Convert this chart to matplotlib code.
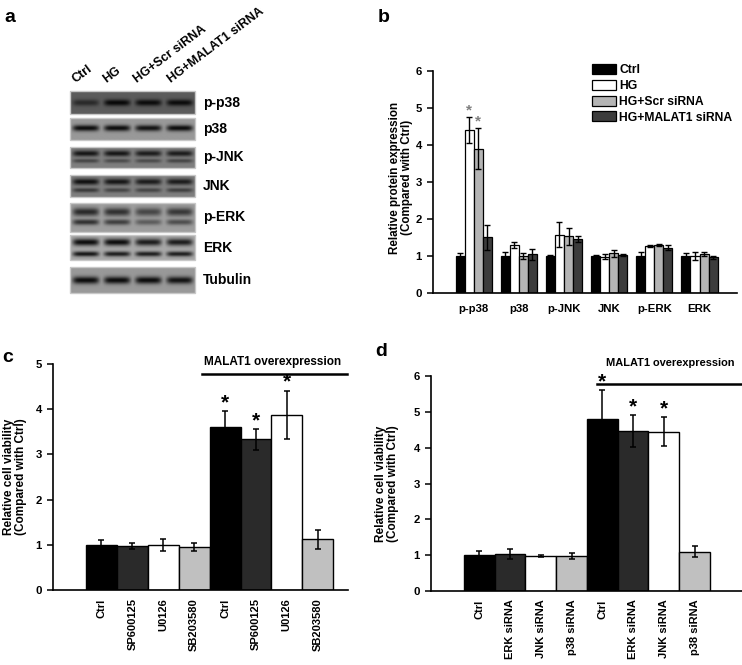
import numpy as np
import matplotlib
matplotlib.use('Agg')
import matplotlib.pyplot as plt

plt.rcParams['font.family'] = ['Liberation Sans', 'DejaVu Sans']
plt.rcParams['font.weight'] = 'bold'
plt.rcParams['axes.labelweight'] = 'bold'

# ---- panel a: western blot (band darkness per lane, 0..1) ----
lanes = ['Ctrl', 'HG', 'HG+Scr siRNA', 'HG+MALAT1 siRNA']
blot_names = ['p-p38', 'p38', 'p-JNK', 'JNK', 'p-ERK', 'ERK', 'Tubulin']
blot_bg = [0.36, 0.60, 0.50, 0.50, 0.62, 0.66, 0.60]
blot_upper = [[0.60, 1.00, 0.95, 0.95],
              [1.00, 1.00, 0.95, 1.00],
              [0.90, 0.90, 0.85, 0.85],
              [0.95, 0.90, 0.85, 0.85],
              [0.80, 0.75, 0.60, 0.70],
              [1.00, 1.00, 0.90, 0.90],
              [1.00, 1.00, 1.00, 0.95]]
blot_lower = [None, None,
              [0.50, 0.45, 0.45, 0.50],
              [0.60, 0.50, 0.50, 0.55],
              [0.75, 0.65, 0.45, 0.55],
              [0.95, 0.90, 0.90, 0.90],
              None]

# ---- panel b ----
proteins = ['p-p38', 'p38', 'p-JNK', 'JNK', 'p-ERK', 'ERK']
groups_b = ['Ctrl', 'HG', 'HG+Scr siRNA', 'HG+MALAT1 siRNA']
vals_b = np.array([[1.00, 1.00, 1.00, 1.00, 1.00, 1.00],
                   [4.40, 1.30, 1.58, 0.98, 1.28, 1.00],
                   [3.90, 1.00, 1.53, 1.07, 1.30, 1.06],
                   [1.50, 1.05, 1.47, 1.02, 1.22, 0.97]])
err_b = np.array([[0.07, 0.12, 0.03, 0.03, 0.10, 0.08],
                  [0.35, 0.08, 0.33, 0.07, 0.03, 0.10],
                  [0.55, 0.07, 0.22, 0.10, 0.03, 0.06],
                  [0.33, 0.15, 0.08, 0.03, 0.07, 0.04]])
colors_b = ['#000000', '#ffffff', '#b4b4b4', '#3c3c3c']

# ---- panel c ----
labels_c = ['Ctrl', 'SP600125', 'U0126', 'SB203580',
            'Ctrl', 'SP600125', 'U0126', 'SB203580']
vals_c = [1.00, 0.98, 0.99, 0.95, 3.60, 3.33, 3.88, 1.12]
err_c = [0.10, 0.07, 0.13, 0.08, 0.35, 0.23, 0.53, 0.21]
star_c = [False, False, False, False, True, True, True, False]

# ---- panel d ----
labels_d = ['Ctrl', 'ERK siRNA', 'JNK siRNA', 'p38 siRNA',
            'Ctrl', 'ERK siRNA', 'JNK siRNA', 'p38 siRNA']
vals_d = [1.00, 1.03, 0.98, 0.98, 4.80, 4.47, 4.45, 1.10]
err_d = [0.13, 0.13, 0.03, 0.08, 0.80, 0.44, 0.40, 0.15]
star_d = [False, False, False, False, True, True, True, False]

colors_cd = ['#000000', '#2a2a2a', '#ffffff', '#c0c0c0'] * 2

W, H = 742, 665
fig = plt.figure(figsize=(W / 100, H / 100), dpi=100)


def px_axes(l, t, r, b):
    return fig.add_axes([l / W, 1 - b / H, (r - l) / W, (b - t) / H])


# overlay in pixel coordinates for blot and panel letters
ov = fig.add_axes([0, 0, 1, 1])
ov.axis('off')

strip_top = [91, 118, 147, 175, 203, 235, 267]
strip_bot = [114, 140, 168, 197, 232, 260, 293]
band_pos = [(0.50, None), (0.45, None), (0.30, 0.65), (0.30, 0.68),
            (0.30, 0.65), (0.28, 0.75), (0.50, None)]
x0, x1 = 70, 195
yy, xx = np.mgrid[0:60, 0:200] / np.array([60.0, 200.0])[:, None, None]
for i, name in enumerate(blot_names):
    dark = np.zeros((60, 200))
    for j in range(4):
        cx = (j + 0.5) / 4
        lane = np.exp(-((xx - cx) / 0.105) ** 6)
        for pos, amp, sy in [(band_pos[i][0], blot_upper[i], 0.14),
                             (band_pos[i][1], blot_lower[i], 0.10)]:
            if pos is None:
                continue
            dark = np.maximum(dark, amp[j] * lane * np.exp(-((yy - pos) / sy) ** 2))
    img = blot_bg[i] * (1 - 0.92 * dark)
    ov.imshow(img, cmap='gray', vmin=0, vmax=1, aspect='auto',
              extent=(x0, x1, strip_bot[i], strip_top[i]), interpolation='bilinear')
    ov.add_patch(plt.Rectangle((x0, strip_top[i]), x1 - x0, strip_bot[i] - strip_top[i],
                               fill=False, edgecolor='#c8c8c8', lw=1))
    ov.text(203, (strip_top[i] + strip_bot[i]) / 2, name, fontsize=10,
            ha='left', va='center')
ov.set_xlim(0, W)
ov.set_ylim(H, 0)

lane_x = [77, 108, 139, 173]
for j, lab in enumerate(lanes):
    ov.text(lane_x[j], 85, lab, fontsize=9, rotation=37, rotation_mode='anchor',
            ha='left', va='bottom')

for letter, x, y in [('a', 4, 17), ('b', 378, 18), ('c', 2, 357), ('d', 375, 351)]:
    ov.text(x, y, letter, fontsize=14, ha='left', va='center')


def style(ax):
    ax.spines['top'].set_visible(False)
    ax.spines['right'].set_visible(False)
    for s in ['left', 'bottom']:
        ax.spines[s].set_linewidth(1.2)
    ax.tick_params(axis='y', length=4, width=1.1, labelsize=8.2, pad=4)
    ax.tick_params(axis='x', length=0)
    for t in ax.get_yticklabels():
        t.set_fontweight('bold')


# ---- panel b ----
axb = px_axes(433, 71, 737, 293)
x = np.arange(len(proteins))
offs = [-0.3, -0.1, 0.1, 0.3]
for k in range(4):
    axb.bar(x + offs[k], vals_b[k], 0.2, color=colors_b[k], edgecolor='black',
            lw=0.9, label=groups_b[k], zorder=2)
    axb.errorbar(x + offs[k], vals_b[k], yerr=err_b[k], fmt='none', ecolor='black',
                 elinewidth=1, capsize=2, capthick=1, zorder=3)
for k in [1, 2]:
    axb.annotate('*', (x[0] + offs[k], vals_b[k][0] + err_b[k][0]), xytext=(0, 5),
                 textcoords='offset points', ha='center', va='center',
                 fontsize=11, color='#808080')
axb.set_ylim(0, 6)
axb.set_xlim(-0.9, 5.83)
axb.set_xticks(x)
axb.set_xticklabels(proteins, fontsize=8.2, fontweight='bold')
axb.tick_params(axis='x', pad=8)
axb.set_ylabel('Relative protein expression\n(Compared with Ctrl)', fontsize=8.4,
               fontweight='bold', linespacing=0.95)
axb.yaxis.set_label_coords(-0.066, 0.52)
style(axb)
axb.legend(loc='upper left', bbox_to_anchor=(592 / W, 1 - 64 / H),
           bbox_transform=fig.transFigure, frameon=False, fontsize=8.7,
           handlelength=1.95, handleheight=0.9, labelspacing=0.3,
           handletextpad=0.3, borderpad=0, borderaxespad=0)


def cell_panel(ax, labels, vals, errs, stars, ymax, xlim, line_x, line_y,
               text_x, text_y, text_size, label_x):
    pos = np.arange(len(labels))
    ax.bar(pos, vals, 1.0, color=colors_cd, edgecolor='black', lw=1, zorder=2)
    ax.errorbar(pos, vals, yerr=errs, fmt='none', ecolor='black', elinewidth=1.1,
                capsize=2.2, capthick=1.1, zorder=3)
    for p, v, e, s in zip(pos, vals, errs, stars):
        if s:
            ax.annotate('*', (p, v + e), xytext=(0, 6), textcoords='offset points',
                        ha='center', va='center', fontsize=15)
    ax.set_ylim(0, ymax)
    ax.set_xlim(*xlim)
    ax.set_xticks(pos)
    ax.set_xticklabels(labels, rotation=90, fontsize=8, fontweight='bold')
    ax.tick_params(axis='x', pad=6)
    ax.set_ylabel('Relative cell viability\n(Compared with Ctrl)', fontsize=8.5,
                  fontweight='bold', linespacing=0.95)
    ax.yaxis.set_label_coords(label_x, 0.5)
    ax.plot(line_x, [line_y, line_y], color='black', lw=1.8, clip_on=False)
    ax.text(text_x, text_y, 'MALAT1 overexpression', ha='center', va='center',
            fontsize=text_size)
    style(ax)


axc = px_axes(53, 364, 348, 590)
cell_panel(axc, labels_c, vals_c, err_c, star_c, 5, (-1.57, 7.98),
           [3.26, 7.96], 4.78, 5.55, 5.04, 8.5, -0.088)

axd = px_axes(431, 376, 742, 591)
cell_panel(axd, labels_d, vals_d, err_d, star_d, 6, (-1.57, 8.54),
           [3.82, 8.54], 5.78, 6.2, 6.36, 7.9, -0.103)

fig.savefig('out.png', dpi=100)
